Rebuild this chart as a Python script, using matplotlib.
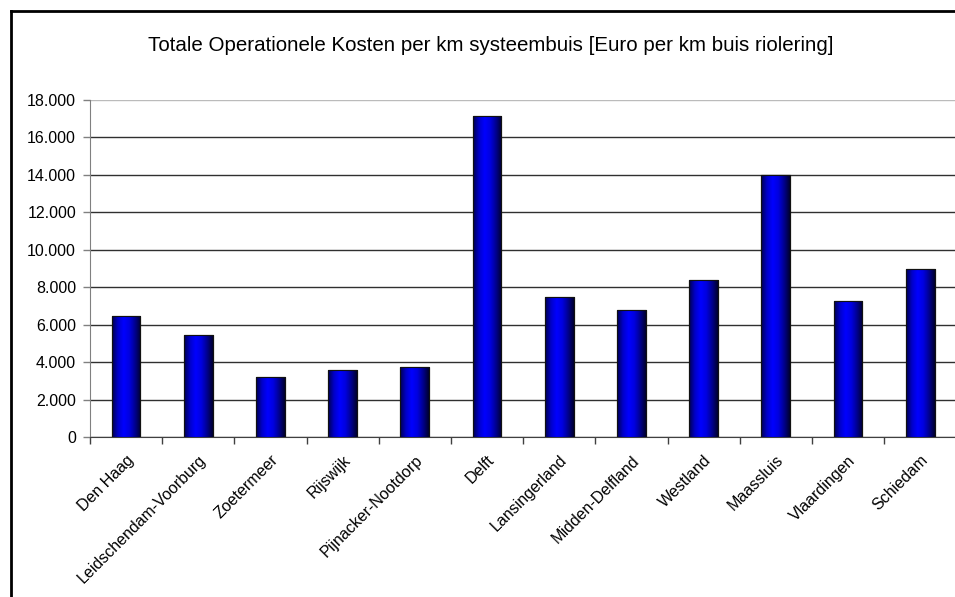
import numpy as np
import matplotlib
matplotlib.use('Agg')
import matplotlib.pyplot as plt
from matplotlib.colors import LinearSegmentedColormap
from matplotlib.lines import Line2D
from matplotlib.ticker import FuncFormatter

gemeenten = ['Den Haag', 'Leidschendam-Voorburg', 'Zoetermeer', 'Rijswijk',
             'Pijnacker-Nootdorp', 'Delft', 'Lansingerland', 'Midden-Delfland',
             'Westland', 'Maassluis', 'Vlaardingen', 'Schiedam']
kosten = [6480, 5470, 3220, 3570, 3730, 17170, 7470, 6770, 8400, 14000, 7250, 8990]
y_ticks = [0, 2000, 4000, 6000, 8000, 10000, 12000, 14000, 16000, 18000]

plt.rcParams['font.family'] = ['Liberation Sans', 'DejaVu Sans']

fig = plt.figure(figsize=(9.55, 5.97), dpi=100)
ax = fig.add_axes([0.0942, 0.2675, 1.0014 - 0.0942, 0.8325 - 0.2675])

x = np.arange(len(gemeenten))
bars = ax.bar(x, kosten, width=0.4, color='#0000ff', edgecolor='black',
              linewidth=0.8, zorder=3)

# cylinder-like shading, like the old excel bars
shade = LinearSegmentedColormap.from_list('shade', ['#000050', '#0000c8', '#0000ff',
                                                    '#0000e0', '#000090', '#000030'])
grad = np.linspace(0, 1, 64).reshape(1, -1)
for b in bars:
    x0, w, h = b.get_x(), b.get_width(), b.get_height()
    im = ax.imshow(grad, extent=[x0, x0 + w, 0, h], aspect='auto', cmap=shade,
                   zorder=3.5, interpolation='bilinear')
    im.set_clip_path(b)
for b in bars:
    ax.add_patch(plt.Rectangle((b.get_x(), 0), b.get_width(), b.get_height(),
                               fill=False, edgecolor='#111111', linewidth=0.8, zorder=4))

ax.set_xlim(-0.5, len(gemeenten) - 0.5)
ax.set_ylim(0, 18000)
ax.set_yticks(y_ticks)
ax.yaxis.set_major_formatter(FuncFormatter(lambda v, p: f'{int(v):,}'.replace(',', '.')))

ax.set_xticks(x)
ax.set_xticklabels(gemeenten, rotation=45, ha='right', va='top', rotation_mode='anchor')
ax.set_xticks(np.arange(-0.5, len(gemeenten) - 0.5, 1), minor=True)
ax.tick_params(axis='x', which='major', length=0, pad=11, labelsize=11.5)
ax.tick_params(axis='x', which='minor', length=5, width=1, color='#404040')
ax.tick_params(axis='y', length=5, width=1, color='#808080', labelsize=11.5, pad=5)

ax.yaxis.grid(True, color='#303030', linewidth=1)
ax.get_ygridlines()[-1].set_color('#bbbbbb')
ax.set_axisbelow(True)

for s in ['top', 'right']:
    ax.spines[s].set_visible(False)
ax.spines['left'].set_color('#808080')
ax.spines['bottom'].set_color('#404040')

fig.text(0.514, 0.924, 'Totale Operationele Kosten per km systeembuis [Euro per km buis riolering]',
         ha='center', va='center', fontsize=14.8)

# outer chart border
fig.add_artist(Line2D([10.5 / 955, 10.5 / 955], [0, 1 - 10.5 / 597], color='black', linewidth=2))
fig.add_artist(Line2D([10.5 / 955, 1], [1 - 10.5 / 597, 1 - 10.5 / 597], color='black', linewidth=2))

plt.savefig('out.png', dpi=100)
